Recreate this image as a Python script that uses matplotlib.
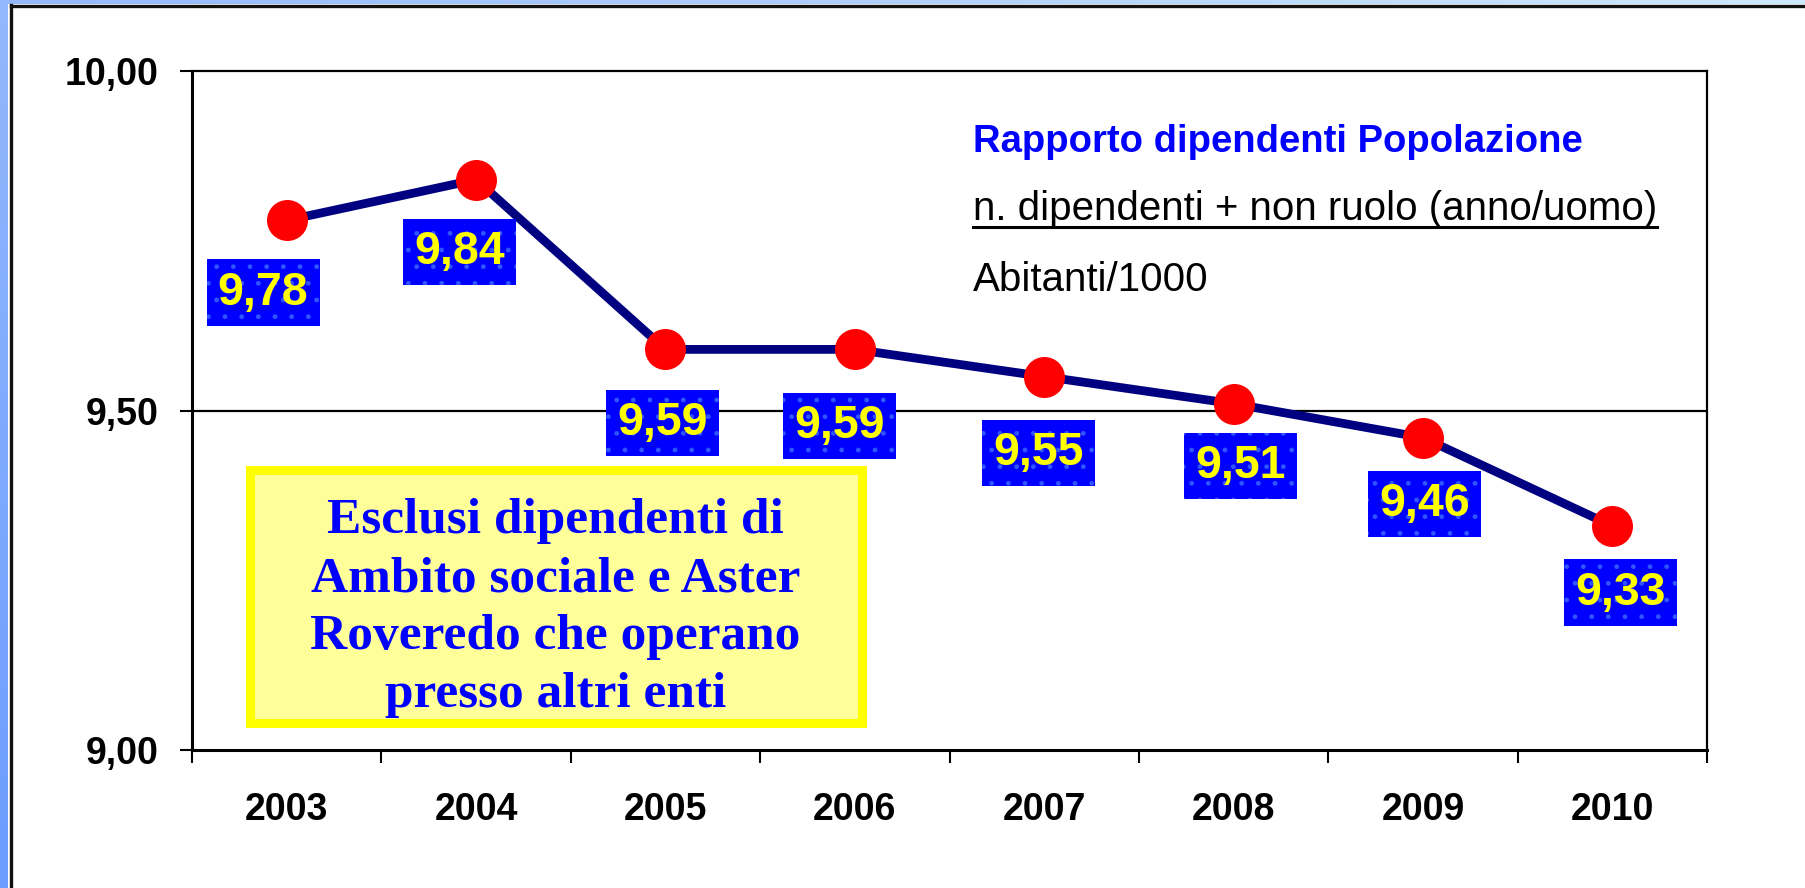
import numpy as np
import matplotlib
matplotlib.use("Agg")
import matplotlib.pyplot as plt
from matplotlib.patches import Rectangle
from matplotlib.lines import Line2D

# data
years = ['2003', '2004', '2005', '2006', '2007', '2008', '2009', '2010']
values = [9.78, 9.84, 9.59, 9.59, 9.55, 9.51, 9.46, 9.33]
value_labels = ['9,78', '9,84', '9,59', '9,59', '9,55', '9,51', '9,46', '9,33']
y_ticks = [9.0, 9.5, 10.0]
y_tick_labels = ['9,00', '9,50', '10,00']

title = 'Rapporto dipendenti Popolazione'
numerator = 'n. dipendenti + non ruolo (anno/uomo)'
denominator = 'Abitanti/1000'
note = 'Esclusi dipendenti di\nAmbito sociale e Aster\nRoveredo che operano\npresso altri enti'

# label box offsets from each point (points)
label_dx = [-17, -12, -2, -11, -4, 5, 1, 6]
label_dy = [-52, -52, -53, -55, -55, -45, -48, -48]

W, H = 1805, 888
fig = plt.figure(figsize=(W / 100, H / 100), dpi=100)
fig.patch.set_facecolor('white')

# slide frame: blue strips on the left and top, black inner border
left_strip = fig.add_axes([0, 0, 8 / W, 1])
grad_v = np.linspace(0, 1, 256).reshape(-1, 1)
left_strip.imshow(grad_v, aspect='auto', extent=[0, 1, 0, 1],
                  cmap=matplotlib.colors.LinearSegmentedColormap.from_list(
                      'lb', ['#6b9cff', '#93b8fb']), origin='lower')
left_strip.axis('off')
top_strip = fig.add_axes([0, 1 - 4 / H, 1, 4 / H])
grad_h = np.linspace(0, 1, 256).reshape(1, -1)
top_strip.imshow(grad_h, aspect='auto', extent=[0, 1, 0, 1],
                 cmap=matplotlib.colors.LinearSegmentedColormap.from_list(
                     'tb', ['#93b8fb', '#cde9fb']))
top_strip.axis('off')
fig.add_artist(Line2D([10.5 / W, 10.5 / W], [0, 1 - 5.5 / H], transform=fig.transFigure,
                      color='#111111', lw=2.4))
fig.add_artist(Line2D([10.5 / W, 1], [1 - 6 / H, 1 - 6 / H], transform=fig.transFigure,
                      color='#111111', lw=2.4))

# plot area
ax = fig.add_axes([192 / W, 1 - 750 / H, 1515 / W, 679 / H])
x = np.arange(len(years))
ax.plot(x, values, color='#000080', lw=6.3, zorder=3, solid_joinstyle='round')
ax.plot(x, values, 'o', color='#ff0000', ms=28.5, mec='#ff0000', zorder=4)

ax.set_xlim(-0.5, len(years) - 0.5)
ax.set_ylim(9.0, 10.0)
ax.axhline(9.5, color='black', lw=1.6, zorder=1)

ax.set_yticks(y_ticks)
ax.set_yticklabels(y_tick_labels, fontsize=27, fontweight='bold', family='Liberation Sans')
ax.tick_params(axis='y', length=9, width=1.5, pad=15)

ax.set_xticks(x)
ax.set_xticklabels(years, fontsize=27, fontweight='bold', family='Liberation Sans')
ax.set_xticks(np.arange(len(years) + 1) - 0.5, minor=True)
ax.tick_params(axis='x', which='major', length=0, pad=30)
ax.tick_params(axis='x', which='minor', length=9, width=1.5)

for side in ['top', 'right']:
    ax.spines[side].set_linewidth(1.6)
for side in ['left', 'bottom']:
    ax.spines[side].set_linewidth(2.2)

# value labels
for i, (v, lab) in enumerate(zip(values, value_labels)):
    ax.annotate(lab, xy=(i, v), xytext=(label_dx[i], label_dy[i]), textcoords='offset points',
                ha='center', va='center', fontsize=33.5, fontweight='bold', color='#ffff00',
                family='Liberation Sans', zorder=6,
                bbox=dict(boxstyle='square,pad=0.24', fc='#0000ff', ec='#2f55ff', lw=0, hatch='.'))

# formula text on the right
ax.text(0.5155, 0.8807, title, transform=ax.transAxes, fontsize=27.5, fontweight='bold',
        color='#0000ff', family='Liberation Sans', va='baseline', ha='left')
num_txt = ax.text(0.5155, 0.7806, numerator, transform=ax.transAxes, fontsize=29,
                  color='black', family='Liberation Sans', va='baseline', ha='left')
ax.text(0.5155, 0.676, denominator, transform=ax.transAxes, fontsize=29,
        color='black', family='Liberation Sans', va='baseline', ha='left')

# underline the numerator using its drawn extent
fig.canvas.draw()
bb = num_txt.get_window_extent().transformed(ax.transAxes.inverted())
ax.add_line(Line2D([bb.x0, bb.x1], [0.7703, 0.7703], transform=ax.transAxes,
                   color='black', lw=2.2))

# yellow note box
ax.add_patch(Rectangle((0.038, 0.0398), 0.404, 0.372, transform=ax.transAxes,
                       facecolor='#ffff99', edgecolor='#ffff00', lw=6.5, zorder=5))
ax.text(0.24, 0.209, note, transform=ax.transAxes, ha='center', va='center',
        multialignment='center', fontsize=37, fontweight='bold', color='#0000ff',
        family='Liberation Serif', linespacing=1.34, zorder=6)

fig.savefig('out.png', dpi=100)
